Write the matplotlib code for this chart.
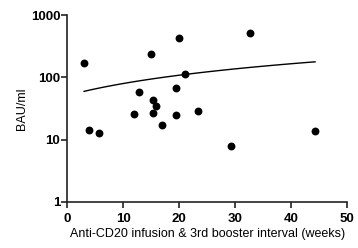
import numpy as np
import matplotlib
matplotlib.use("Agg")
import matplotlib.pyplot as plt

# interval (weeks) and antibody titer (BAU/ml)
weeks = [3.0, 3.9, 5.7, 11.9, 12.8, 14.9, 15.3, 15.8, 15.3, 16.9,
         19.4, 19.4, 20.0, 21.0, 23.4, 32.6, 44.3, 29.2]
titer = [171, 14.3, 12.8, 25.9, 58.5, 239, 43.6, 34.8, 26.9, 17.2,
         67.8, 25.0, 436, 112, 29.2, 519, 13.6, 8.0]

xticks = [0, 10, 20, 30, 40, 50]
yticks = [1, 10, 100, 1000]

plt.rcParams['font.family'] = ['Liberation Sans', 'DejaVu Sans']

fig = plt.figure(figsize=(3.58, 2.48), dpi=100)
ax = fig.add_axes([0.188, 0.187, 0.781, 0.751])

ax.scatter(weeks, titer, s=32, color="black", zorder=3, linewidths=0)

# simple linear regression line drawn over the data range
slope, intercept = np.polyfit(weeks, titer, 1)
xs = np.linspace(min(weeks), max(weeks), 100)
ax.plot(xs, intercept + slope * xs, color="black", linewidth=1.0)

ax.set_yscale("log")
ax.set_xlim(0, 50)
ax.set_ylim(1, 1000)
ax.set_xticks(xticks)
ax.set_yticks(yticks)
ax.set_xticklabels([str(t) for t in xticks], fontweight="bold", fontsize=9.5)
ax.set_yticklabels([str(t) for t in yticks], fontweight="bold", fontsize=9.5)
ax.minorticks_off()

for side in ["top", "right"]:
    ax.spines[side].set_visible(False)
for side in ["left", "bottom"]:
    ax.spines[side].set_linewidth(1.2)
    ax.spines[side].set_color("#222222")
ax.tick_params(direction="out", length=4, width=1.2, colors="#222222")
ax.tick_params(axis="x", pad=4)
ax.tick_params(axis="y", pad=1)
ax.tick_params(labelcolor="black")

ax.set_xlabel("Anti-CD20 infusion & 3rd booster interval (weeks)", fontsize=9, labelpad=2)
ax.set_ylabel("BAU/ml", fontsize=9, labelpad=2)

fig.savefig("out.png", dpi=100)
